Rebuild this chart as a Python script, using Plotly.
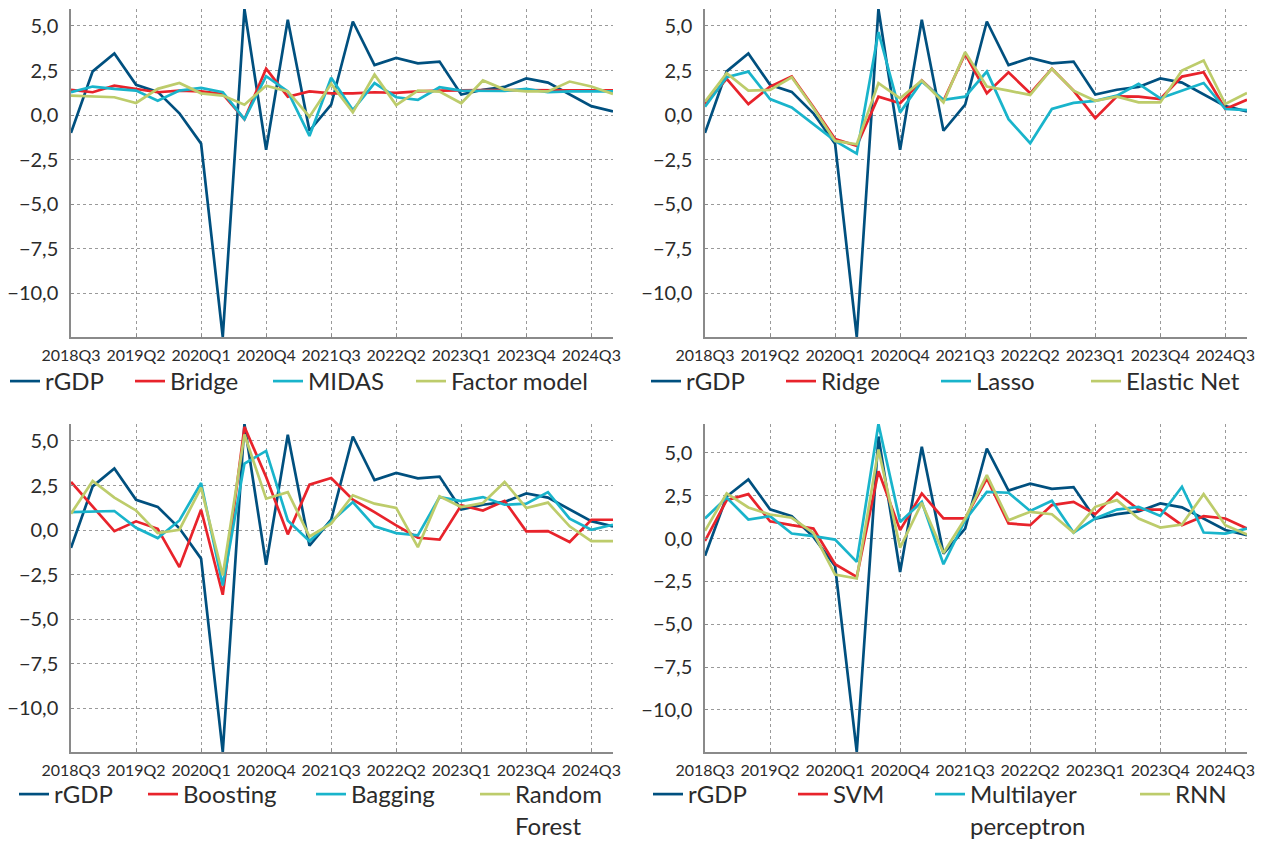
import plotly.graph_objects as go

quarters = ["2018Q3", "2018Q4", "2019Q1", "2019Q2", "2019Q3", "2019Q4",
            "2020Q1", "2020Q2", "2020Q3", "2020Q4", "2021Q1", "2021Q2",
            "2021Q3", "2021Q4", "2022Q1", "2022Q2", "2022Q3", "2022Q4",
            "2023Q1", "2023Q2", "2023Q3", "2023Q4", "2024Q1", "2024Q2",
            "2024Q3", "2024Q4"]
tick_labels = quarters[::3]

rgdp = [-1.0, 2.45, 3.45, 1.7, 1.3, 0.1, -1.6, -12.45, 5.95, -1.95, 5.35, -0.88, 0.58,
        5.25, 2.8, 3.2, 2.9, 3.0, 1.15, 1.42, 1.58, 2.05, 1.82, 1.18, 0.5, 0.2]

# Panel 1
bridge = [1.41, 1.28, 1.65, 1.47, 1.28, 1.37, 1.33, 1.18, -0.23, 2.6, 1.03, 1.33, 1.22,
          1.22, 1.28, 1.24, 1.33, 1.37, 1.4, 1.4, 1.4, 1.38, 1.38, 1.38, 1.38, 1.38]
midas = [1.28, 1.6, 1.47, 1.37, 0.8, 1.37, 1.52, 1.28, -0.23, 2.18, 1.33, -1.17, 2.09,
         0.28, 1.79, 1.0, 0.85, 1.56, 1.37, 1.37, 1.35, 1.47, 1.28, 1.33, 1.33, 1.33]
factor_model = [1.09, 1.05, 1.0, 0.68, 1.47, 1.8, 1.22, 1.09, 0.58, 1.65, 1.33, -0.09, 1.75,
                0.15, 2.27, 0.56, 1.37, 1.32, 0.66, 1.94, 1.43, 1.33, 1.33, 1.88, 1.6, 1.18]

# Panel 2
ridge = [0.62, 2.03, 0.62, 1.6, 2.16, 0.45, -1.35, -1.73, 1.03, 0.66, 1.94, 0.8, 3.44,
         1.22, 2.4, 1.22, 2.6, 1.37, -0.17, 1.05, 1.03, 0.9, 2.16, 2.4, 0.34, 0.86]
lasso = [0.47, 2.12, 2.44, 0.9, 0.43, -0.5, -1.45, -2.16, 4.66, 0.15, 1.88, 0.86, 1.03,
         2.44, -0.23, -1.58, 0.34, 0.68, 0.8, 1.09, 1.75, 0.94, 1.37, 1.8, 0.34, 0.28]
elastic_net = [0.75, 2.35, 1.37, 1.41, 2.12, 0.4, -1.45, -1.64, 1.79, 0.94, 1.94, 0.71, 3.53,
               1.6, 1.37, 1.13, 2.6, 1.37, 0.8, 1.03, 0.71, 0.71, 2.5, 3.06, 0.62, 1.24]

# Panel 3
boosting = [2.7, 1.29, -0.06, 0.49, 0.07, -2.08, 1.14, -3.63, 5.79, 2.98, -0.24, 2.55, 2.92,
            1.7, 1.01, 0.26, -0.43, -0.54, 1.39, 1.1, 1.63, -0.07, -0.06, -0.67, 0.58, 0.58]
bagging = [1.01, 1.05, 1.07, 0.13, -0.45, 0.54, 2.64, -3.11, 3.73, 4.44, 0.54, -0.62, 0.45,
           1.57, 0.21, -0.17, -0.3, 1.85, 1.63, 1.85, 1.42, 1.48, 2.13, 0.64, 0.02, 0.3]
random_forest = [0.92, 2.75, 1.82, 1.1, -0.17, 0.02, 2.38, -2.55, 5.36, 1.76, 2.13, -0.36, 0.36,
                 1.95, 1.48, 1.24, -0.96, 1.89, 1.29, 1.52, 2.7, 1.24, 1.54, 0.21, -0.62, -0.62]

# Panel 4
svm = [-0.14, 2.24, 2.59, 1.01, 0.78, 0.58, -1.5, -2.24, 3.93, 0.49, 2.63, 1.17, 1.17,
       3.5, 0.88, 0.78, 1.95, 2.14, 1.42, 2.67, 1.69, 1.69, 0.78, 1.3, 1.17, 0.58]
mlp = [1.17, 2.39, 1.11, 1.3, 0.29, 0.14, -0.06, -1.36, 6.68, 0.97, 2.14, -1.5, 1.07,
       2.72, 2.67, 1.61, 2.2, 0.35, 1.17, 1.69, 1.85, 1.32, 3.02, 0.35, 0.29, 0.58]
rnn = [0.45, 2.63, 1.81, 1.4, 1.21, 0.33, -2.1, -2.33, 5.19, -0.53, 2.08, -0.84, 1.17,
       3.7, 1.07, 1.56, 1.42, 0.35, 1.85, 2.24, 1.17, 0.64, 0.82, 2.59, 0.78, 0.23]

panels = [
    (["rGDP", "Bridge", "MIDAS", "Factor model"], [rgdp, bridge, midas, factor_model]),
    (["rGDP", "Ridge", "Lasso", "Elastic Net"], [rgdp, ridge, lasso, elastic_net]),
    (["rGDP", "Boosting", "Bagging", "Random<br>Forest"], [rgdp, boosting, bagging, random_forest]),
    (["rGDP", "SVM", "Multilayer<br>perceptron", "RNN"], [rgdp, svm, mlp, rnn]),
]

colors = ["#00507f", "#e8232b", "#19b4cb", "#bdcc6b"]
W, H = 1261, 841
FONT = "Lato"
TXT = "#2b2b2b"

# plot areas in pixels: (left, right, top, bottom)
areas = [(71, 613, 9, 337), (705, 1247, 9, 337), (71, 613, 424, 752), (705, 1247, 424, 752)]
yranges = [[-12.45, 5.95], [-12.45, 5.95], [-12.45, 5.95], [-12.45, 6.68]]
# legend item text start (px) per panel, and legend box top (px)
leg_text_x = [[47, 172, 310, 453], [688, 823, 978, 1128], [56, 185, 353, 517], [690, 835, 972, 1177]]
leg_top = [359, 359, 772, 772]

fig = go.Figure()
layout = {}
lg = 0
for p, (names, series) in enumerate(panels):
    xa = "x" if p == 0 else f"x{p+1}"
    ya = "y" if p == 0 else f"y{p+1}"
    for k, (name, vals) in enumerate(zip(names, series)):
        lg += 1
        lname = "legend" if lg == 1 else f"legend{lg}"
        fig.add_trace(go.Scatter(
            x=quarters, y=vals, name=name, mode="lines",
            line=dict(color=colors[k], width=2.7),
            xaxis=xa, yaxis=ya, legend=lname, showlegend=True))
        layout[lname] = dict(
            x=(leg_text_x[p][k] - 42) / W, y=1 - leg_top[p] / H,
            xanchor="left", yanchor="top", orientation="v",
            bgcolor="rgba(0,0,0,0)", borderwidth=0, itemwidth=30,
            valign="top", tracegroupgap=0,
            font=dict(family=FONT, size=24, color=TXT))
    l, r, t, b = areas[p]
    xkey = "xaxis" if p == 0 else f"xaxis{p+1}"
    ykey = "yaxis" if p == 0 else f"yaxis{p+1}"
    layout[xkey] = dict(
        domain=[l / W, r / W], anchor=ya, type="category",
        categoryorder="array", categoryarray=quarters,
        range=[0, len(quarters) - 1], automargin=False,
        tickmode="array", tickvals=tick_labels, ticktext=tick_labels,
        showgrid=True, gridcolor="#9a9a9a", griddash="dot", gridwidth=1,
        showline=True, linecolor="#8a8a8a", linewidth=1.5,
        ticks="inside", ticklen=3, tickcolor="#8a8a8a",
        tickfont=dict(family=FONT, size=16, color=TXT),
        ticklabelstandoff=3, zeroline=False, fixedrange=True)
    layout[ykey] = dict(
        domain=[1 - b / H, 1 - t / H], anchor=xa, automargin=False,
        range=yranges[p], tickmode="linear", tick0=0, dtick=2.5,
        tickformat=".1f",
        showgrid=True, gridcolor="#9a9a9a", griddash="dot", gridwidth=1,
        showline=True, linecolor="#8a8a8a", linewidth=1.5,
        ticks="inside", ticklen=3, tickcolor="#8a8a8a",
        tickfont=dict(family=FONT, size=20, color=TXT),
        ticklabelstandoff=7, zeroline=False, fixedrange=True)

fig.update_layout(
    width=W, height=H, margin=dict(l=0, r=0, t=0, b=0, autoexpand=False),
    paper_bgcolor="white", plot_bgcolor="white",
    separators=", ", font=dict(family=FONT, color=TXT),
    **layout)

fig.write_html("out.html", config={"displayModeBar": False},
               post_script="document.body.style.margin='0';")
